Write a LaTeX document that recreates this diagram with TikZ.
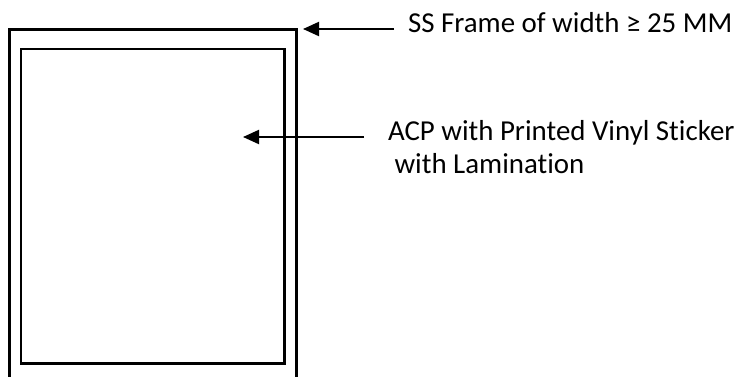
\documentclass[tikz,border=0pt]{standalone}
\usepackage{fontspec}
\setmainfont[Ligatures=NoCommon]{Carlito}
\usetikzlibrary{arrows.meta}

\begin{document}
\begin{tikzpicture}[x=1pt, y=-1pt, font=\fontsize{28.9}{33}\selectfont,
  frameline/.style={draw, line width=2.6pt, inner sep=0pt, anchor=north west},
  pointer/.style={line width=2pt, -{Triangle[length=16pt, width=14pt]}},
  note/.style={inner sep=0pt, align=left, anchor=base west}]
\useasboundingbox (0,0) rectangle (744,376);
\clip (0,0) rectangle (744,376);
\node[frameline, minimum width=287pt, minimum height=400pt](frame) at (8,28){};
\node[frameline, minimum width=263.5pt, minimum height=314.5pt](panel) at (19.5,47.5){};
\coordinate (frametip) at (303,29);
\coordinate (paneltip) at (243,137);
\node[note, outer xsep=14pt](sstext) at (394,32){SS Frame of width ≥ 25 MM};
\node[note, outer xsep=24pt](acptext) at (364,173){ACP with Printed Vinyl Sticker\\~with Lamination};
\draw[pointer] (sstext.west |- frametip) -- (frametip);
\draw[pointer] (acptext.west |- paneltip) -- (paneltip);
\end{tikzpicture}
\end{document}
